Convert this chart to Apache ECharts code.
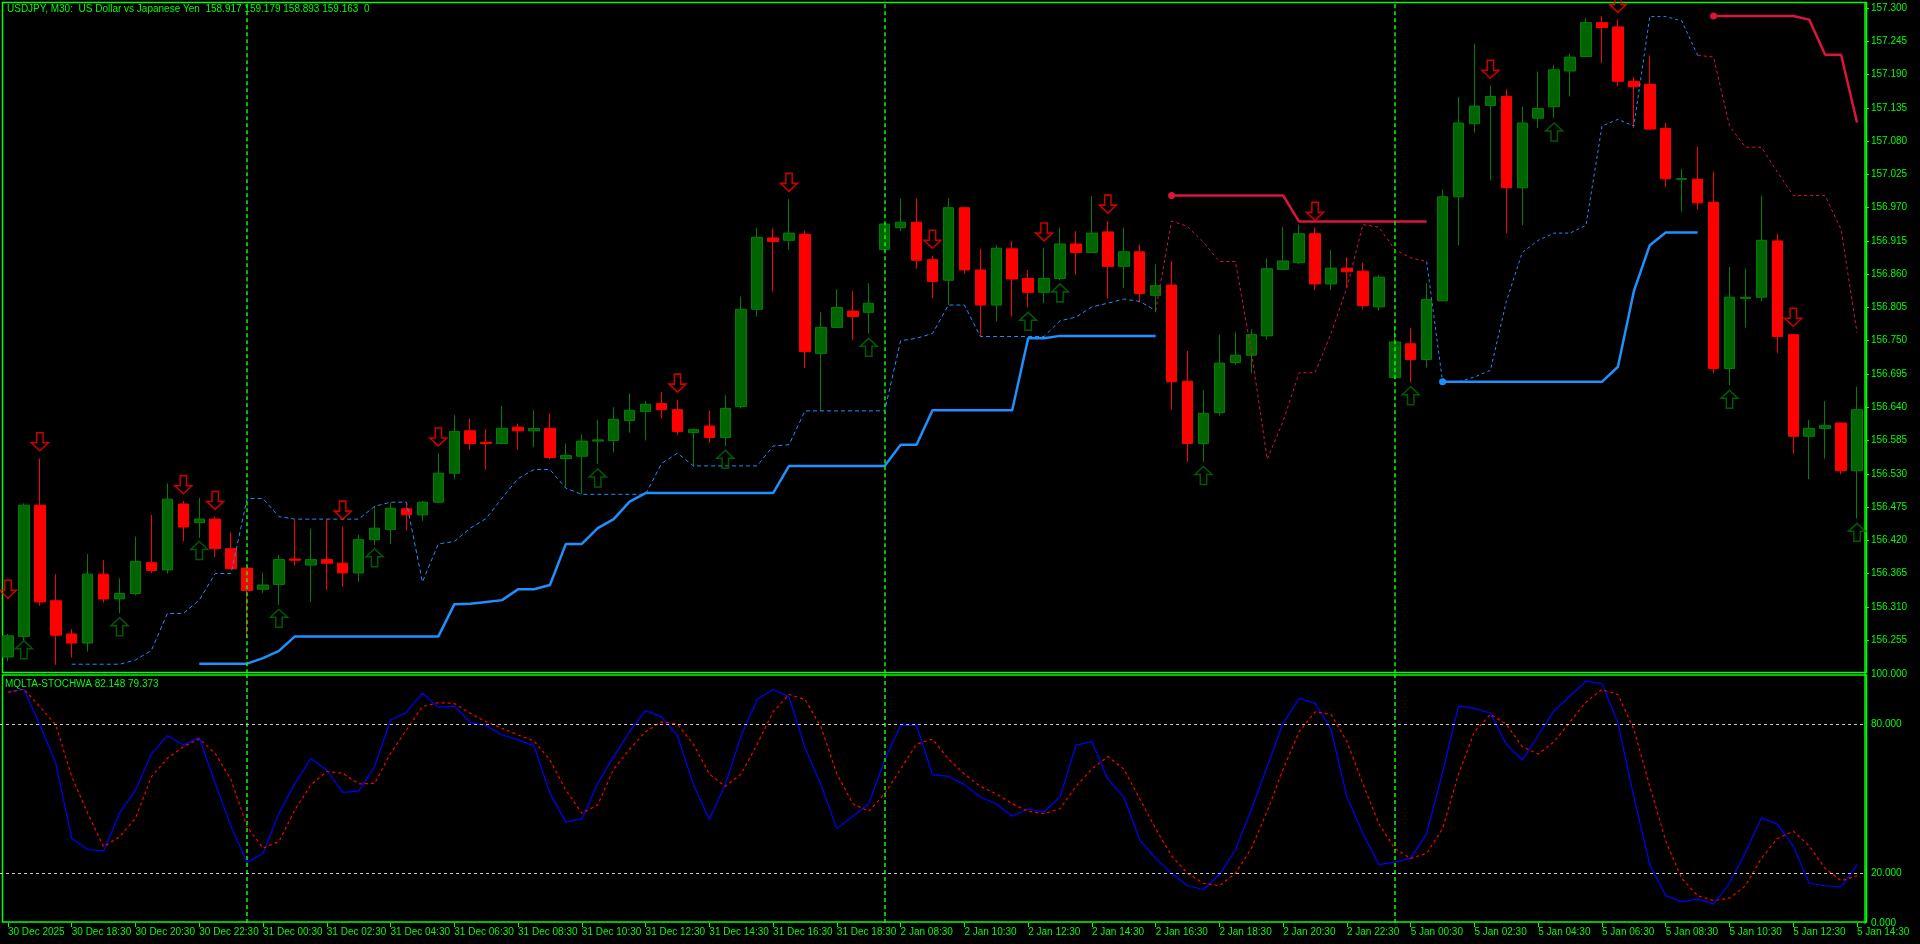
<!DOCTYPE html>
<html>
<head>
<meta charset="utf-8">
<script src="https://cdn.jsdelivr.net/npm/echarts@6/dist/echarts.min.js"></script>
<style>
  html, body { margin: 0; padding: 0; background: #000; }
  #chart { width: 1920px; height: 944px; }
</style>
</head>
<body>
<div id="chart"></div>
<script>
// candles c0..c116, M30 bars from 30 Dec 16:30 to 5 Jan 14:30
const opens = [156.227,156.261,156.478,156.320,156.265,156.250,156.364,156.323,156.332,156.383,156.371,156.480,156.449,156.455,156.406,156.374,156.339,156.347,156.389,156.379,156.388,156.382,156.366,156.421,156.438,156.472,156.462,156.483,156.531,156.601,156.582,156.580,156.607,156.601,156.605,156.555,156.559,156.584,156.585,156.618,156.633,156.646,156.636,156.598,156.609,156.590,156.641,156.802,156.920,156.916,156.926,156.729,156.772,156.799,156.797,156.901,156.937,156.946,156.884,156.850,156.970,156.867,156.809,156.902,156.853,156.830,156.853,156.910,156.896,156.930,156.873,156.897,156.825,156.842,156.683,156.580,156.631,156.714,156.726,156.758,156.868,156.879,156.927,156.844,156.870,156.865,156.806,156.689,156.745,156.719,156.816,156.988,157.109,157.139,157.154,157.003,157.118,157.137,157.196,157.220,157.276,157.269,157.179,157.174,157.101,157.017,157.017,156.979,156.704,156.820,156.822,156.915,156.760,156.592,156.605,156.614,156.535];
const closes = [156.262,156.478,156.318,156.263,156.250,156.364,156.323,156.332,156.385,156.370,156.488,156.442,156.455,156.406,156.373,156.337,156.346,156.388,156.387,156.388,156.382,156.366,156.421,156.440,156.473,156.462,156.483,156.531,156.600,156.580,156.580,156.605,156.601,156.605,156.557,156.560,156.584,156.586,156.620,156.635,156.645,156.636,156.600,156.603,156.590,156.638,156.802,156.921,156.914,156.928,156.732,156.772,156.805,156.790,156.812,156.943,156.946,156.883,156.848,156.970,156.867,156.809,156.903,156.852,156.830,156.853,156.910,156.896,156.928,156.873,156.897,156.828,156.841,156.682,156.580,156.630,156.713,156.726,156.760,156.869,156.882,156.927,156.844,156.870,156.864,156.808,156.855,156.748,156.719,156.818,156.988,157.110,157.138,157.154,157.003,157.110,157.134,157.198,157.219,157.276,157.268,157.179,157.170,157.100,157.018,157.018,156.978,156.704,156.822,156.822,156.916,156.757,156.592,156.605,156.610,156.535,156.636];
const lows = [156.220,156.255,156.312,156.214,156.226,156.236,156.317,156.299,156.329,156.366,156.365,156.418,156.424,156.392,156.372,156.258,156.333,156.313,156.378,156.318,156.338,156.343,156.351,156.412,156.414,156.436,156.452,156.482,156.521,156.570,156.537,156.579,156.570,156.574,156.554,156.507,156.496,156.546,156.565,156.598,156.585,156.621,156.594,156.542,156.581,156.576,156.638,156.790,156.831,156.901,156.705,156.634,156.772,156.751,156.762,156.899,156.931,156.869,156.820,156.809,156.861,156.758,156.782,156.790,156.805,156.812,156.850,156.859,156.896,156.820,156.837,156.813,156.797,156.636,156.550,156.550,156.626,156.710,156.696,156.752,156.867,156.877,156.834,156.834,156.838,156.802,156.800,156.687,156.681,156.706,156.815,156.908,157.094,157.015,156.928,156.941,157.102,157.118,157.154,157.220,157.209,157.171,157.102,157.098,157.004,156.964,156.967,156.696,156.676,156.772,156.815,156.730,156.563,156.521,156.555,156.529,156.456];
const highs = [156.265,156.481,156.555,156.364,156.273,156.397,156.387,156.357,156.426,156.462,156.514,156.485,156.490,156.459,156.433,156.374,156.366,156.396,156.453,156.439,156.455,156.442,156.429,156.477,156.482,156.481,156.485,156.564,156.627,156.621,156.604,156.642,156.613,156.635,156.630,156.580,156.595,156.619,156.640,156.663,156.650,156.665,156.652,156.605,156.634,156.660,156.823,156.936,156.936,156.984,156.932,156.797,156.835,156.832,156.845,156.945,156.985,156.985,156.890,156.986,156.971,156.902,156.908,156.915,156.867,156.903,156.937,156.931,156.989,156.948,156.937,156.909,156.876,156.882,156.733,156.668,156.760,156.764,156.769,156.886,156.938,156.942,156.937,156.900,156.888,156.879,156.858,156.774,156.771,156.845,157.000,157.153,157.241,157.172,157.166,157.137,157.195,157.206,157.225,157.284,157.287,157.281,157.186,157.222,157.110,157.034,157.071,157.029,156.872,156.869,156.990,156.927,156.761,156.619,156.650,156.614,156.674];

// x-axis labels, one every 4 bars
const timeLabels = ['30 Dec 2025','30 Dec 18:30','30 Dec 20:30','30 Dec 22:30','31 Dec 00:30','31 Dec 02:30','31 Dec 04:30','31 Dec 06:30','31 Dec 08:30','31 Dec 10:30','31 Dec 12:30','31 Dec 14:30','31 Dec 16:30','31 Dec 18:30','2 Jan 08:30','2 Jan 10:30','2 Jan 12:30','2 Jan 14:30','2 Jan 16:30','2 Jan 18:30','2 Jan 20:30','2 Jan 22:30','5 Jan 00:30','5 Jan 02:30','5 Jan 04:30','5 Jan 06:30','5 Jan 08:30','5 Jan 10:30','5 Jan 12:30','5 Jan 14:30'];
const daySeparators = [15, 55, 87];

// arrow signals: [bar, price at tip]
const downArrows = [[0,156.324],[2,156.568],[11,156.497],[13,156.471],[21,156.455],[27,156.576],[42,156.665],[49,156.997],[58,156.903],[65,156.915],[69,156.961],[82,156.949],[93,157.184],[101,157.293],[112,156.774]];
const upArrows = [[1,156.254],[7,156.292],[12,156.418],[17,156.306],[23,156.406],[37,156.538],[45,156.569],[54,156.754],[64,156.797],[66,156.844],[75,156.542],[88,156.674],[97,157.110],[108,156.668],[116,156.448]];

// trailing lines
const blueSolid1Start = 12;
const blueSolid1 = [156.216,156.216,156.216,156.216,156.225,156.237,156.261,156.261,156.261,156.261,156.261,156.261,156.261,156.261,156.261,156.261,156.314,156.315,156.318,156.321,156.339,156.339,156.346,156.414,156.414,156.440,156.455,156.484,156.498,156.498,156.498,156.498,156.498,156.498,156.498,156.498,156.498,156.543,156.543,156.543,156.543,156.543,156.543,156.543,156.578,156.578,156.635,156.635,156.635,156.635,156.635,156.635,156.754,156.754,156.758,156.758,156.758,156.758,156.758,156.758,156.758];
const blueSolid2Start = 90;
const blueSolid2 = [156.682,156.682,156.682,156.682,156.682,156.682,156.682,156.682,156.682,156.682,156.682,156.707,156.832,156.908,156.929,156.929,156.929];
const redSolid1Start = 73;
const redSolid1 = [156.990,156.990,156.990,156.990,156.990,156.990,156.990,156.990,156.947,156.947,156.947,156.947,156.947,156.947,156.947,156.947,156.947];
const redSolid2Start = 107;
const redSolid2 = [157.287,157.287,157.287,157.287,157.287,157.287,157.281,157.223,157.223,157.111];

const blueDash1Start = 4;
const blueDash1 = [156.215,156.215,156.215,156.215,156.222,156.238,156.299,156.299,156.321,156.365,156.365,156.489,156.489,156.459,156.455,156.455,156.455,156.455,156.455,156.476,156.483,156.483,156.351,156.414,156.418,156.440,156.456,156.490,156.522,156.537,156.537,156.506,156.496,156.496,156.496,156.496,156.496,156.547,156.564,156.543,156.543,156.543,156.543,156.543,156.576,156.578,156.634,156.634,156.634,156.634,156.634,156.634,156.750,156.754,156.762,156.809,156.809,156.757,156.757,156.757,156.757,156.757,156.783,156.789,156.806,156.812,156.819,156.815,156.800];
const redDot1Start = 72;
const redDot1 = [156.800,156.948,156.939,156.913,156.881,156.881,156.733,156.554,156.617,156.697,156.697,156.762,156.838,156.942,156.938,156.901,156.887,156.881];
const blueDash2Start = 89;
const blueDash2 = [156.881,156.682,156.682,156.690,156.701,156.815,156.896,156.916,156.928,156.928,156.941,157.105,157.116,157.105,157.286,157.286,157.279,157.222];
const redDot2Start = 106;
const redDot2 = [157.222,157.219,157.105,157.070,157.070,157.029,156.990,156.990,156.990,156.934,156.763];

// stochastic pane
const stochMain = [92.9,94.1,79.7,64.3,34.1,29.6,29.0,44.2,53.5,68.0,75.4,71.7,74.6,56.2,38.8,24.4,28.0,44.2,56.2,66.2,61.6,52.6,53.1,63.0,81.7,84.8,92.5,86.8,87.4,80.8,79.4,75.7,73.7,71.3,52.2,40.6,41.9,56.2,67,77,85.5,83,75.5,55.7,41.8,55.7,75.5,90,94,91,70.6,55.7,38,43,48,65.6,79.5,79.5,59.7,59,55.7,50.7,48,43,45.8,44.8,50.7,71.6,73,58,50.7,33.4,26,20,15,13.5,19.5,29.4,45.8,63,80.5,90.4,88.4,78,50.7,36,23.5,24.5,26,36,60.6,87.4,86.4,84.5,72,65.6,75.5,85.5,91.4,97.4,96.4,80.5,50.7,23.5,11,8.6,9.6,7.6,16,28.4,42.3,39.8,30.9,16,15,14.5,23.5];
const stochSignal = [92.9,94.1,87.1,79.7,58.9,44.2,30.7,34.7,42.2,58.9,66.3,71.0,74.1,68.3,57.6,38.8,30.1,32.8,45.5,55.6,61.0,60.3,56.0,56.2,68.3,77.7,87.1,88.7,88.4,84.4,81.0,78.4,75.7,73.3,65.6,53.5,44.2,47.5,62,70,77,81,80,72,60,55,60,72,85,92,90,79,60,48,45,52,62,72,74,66,60,55,52,48,45,44,46,55,62,67,62,50,38,27,20,16,15,20,30,45,62,77,85,84,73,56,40,30,26,28,38,60,77,84,80,71,68,73,81,89,94,92,78,55,33,18,11,9,10,15,26,34,37,31,22,17,19];
const stochLevels = [80, 20];

const N = opens.length;
const cats = opens.map((_, i) => String(i));
const lime = '#00ff00';
const font = 'Liberation Sans';

function pad(start, vals, dot) {
  const out = new Array(N).fill(null);
  vals.forEach((v, k) => { out[start + k] = v; });
  if (dot) out[start] = { value: vals[0], symbolSize: 7 };
  return out;
}

const candleData = opens.map((o, i) => [o, closes[i], lows[i], highs[i]]);

const downPath = 'path://M5,0 L11,0 L11,10 L16,10 L8,18 L0,10 L5,10 Z';
const upPath = 'path://M8,0 L16,8 L11,8 L11,18 L5,18 L5,8 L0,8 Z';

function trail(name, data, color, width, type) {
  return {
    name, type: 'line', xAxisIndex: 0, yAxisIndex: 0, data,
    symbol: 'circle', symbolSize: 0, showSymbol: true, showAllSymbol: true,
    itemStyle: { color }, lineStyle: { color, width, type },
    connectNulls: false, silent: true, z: 3
  };
}

const sepLines = daySeparators.map(i => ({ xAxis: String(i) }));

const chart = echarts.init(document.getElementById('chart'));
chart.setOption({
  backgroundColor: '#000',
  animation: false,
  grid: [
    { left: 0, right: 55, top: 2.7, bottom: 270.7 },
    { left: 0, right: 55, top: 674.6, bottom: 21 }
  ],
  xAxis: [
    { type: 'category', gridIndex: 0, data: cats, boundaryGap: true,
      axisLine: { show: false }, axisTick: { show: false }, axisLabel: { show: false }, splitLine: { show: false } },
    { type: 'category', gridIndex: 1, data: cats, boundaryGap: true,
      axisLine: { show: false },
      axisTick: { show: true, alignWithLabel: true, interval: i => i % 4 === 0, length: 4, lineStyle: { color: lime } },
      axisLabel: { show: true, interval: i => i % 4 === 0, color: lime, fontFamily: font, fontSize: 10, align: 'left', margin: 4,
        formatter: (v, i) => timeLabels[i / 4] || '' },
      splitLine: { show: false } }
  ],
  yAxis: [
    { type: 'value', gridIndex: 0, position: 'right', min: 156.2, max: 157.309, interval: 0.055,
      axisLine: { show: true, lineStyle: { color: lime, width: 1.5 } },
      axisTick: { show: true, length: 4, lineStyle: { color: lime } },
      axisLabel: { color: lime, fontFamily: font, fontSize: 10, margin: 6, showMinLabel: false, showMaxLabel: false,
        formatter: v => v.toFixed(3) },
      splitLine: { show: false } },
    { type: 'value', gridIndex: 1, position: 'right', min: 0, max: 100, interval: 20,
      axisLine: { show: true, lineStyle: { color: lime, width: 1.5 } },
      axisTick: { show: false },
      axisLabel: { color: lime, fontFamily: font, fontSize: 10, margin: 6,
        formatter: v => ([0, 20, 80, 100].includes(v) ? v.toFixed(3) : '') },
      splitLine: { show: false } }
  ],
  graphic: [
    { type: 'rect', shape: { x: 2.5, y: 2.5, width: 1864, height: 670 }, style: { fill: 'none', stroke: lime, lineWidth: 1.5 }, silent: true, z: 0 },
    { type: 'rect', shape: { x: 2.5, y: 675, width: 1864, height: 247 }, style: { fill: 'none', stroke: lime, lineWidth: 1.5 }, silent: true, z: 0 },
    { type: 'text', left: 7, top: 4, style: { text: 'USDJPY, M30:  US Dollar vs Japanese Yen  158.917 159.179 158.893 159.163  0', fill: lime, font: '10px "Liberation Sans"' }, z: 10 },
    { type: 'text', left: 5, top: 679, style: { text: 'MQLTA-STOCHWA 82.148 79.373', fill: lime, font: '10px "Liberation Sans"' }, z: 10 }
  ],
  series: [
    { name: 'USDJPY', type: 'candlestick', xAxisIndex: 0, yAxisIndex: 0, data: candleData, barWidth: 11,
      itemStyle: { color: '#006400', color0: '#ff0000', borderColor: '#008000', borderColor0: '#ff0000', borderWidth: 1 },
      markLine: { silent: true, symbol: 'none', label: { show: false },
        lineStyle: { color: lime, type: [4, 3], width: 1.5 }, data: sepLines },
      z: 2 },
    trail('blueSolid1', pad(blueSolid1Start, blueSolid1, false), '#1e90ff', 2.5, 'solid'),
    trail('blueSolid2', pad(blueSolid2Start, blueSolid2, true), '#1e90ff', 2.5, 'solid'),
    trail('redSolid1', pad(redSolid1Start, redSolid1, true), '#dc143c', 2.5, 'solid'),
    trail('redSolid2', pad(redSolid2Start, redSolid2, true), '#dc143c', 2.5, 'solid'),
    trail('blueDash1', pad(blueDash1Start, blueDash1, false), '#1e90ff', 1, [4, 3]),
    trail('blueDash2', pad(blueDash2Start, blueDash2, false), '#1e90ff', 1, [3, 3]),
    trail('redDot1', pad(redDot1Start, redDot1, false), '#dc143c', 1, [3, 3]),
    trail('redDot2', pad(redDot2Start, redDot2, false), '#dc143c', 1, [3, 3]),
    { name: 'down', type: 'scatter', xAxisIndex: 0, yAxisIndex: 0, clip: false,
      data: downArrows.map(a => [String(a[0]), a[1]]), symbol: downPath, symbolSize: [17, 18], symbolOffset: [0, '-50%'],
      itemStyle: { color: 'rgba(0,0,0,0)', borderColor: '#ff0000', borderWidth: 1.5 }, z: 5, silent: true },
    { name: 'up', type: 'scatter', xAxisIndex: 0, yAxisIndex: 0, clip: false,
      data: upArrows.map(a => [String(a[0]), a[1]]), symbol: upPath, symbolSize: [17, 18], symbolOffset: [0, '50%'],
      itemStyle: { color: 'rgba(0,0,0,0)', borderColor: '#007000', borderWidth: 1.5 }, z: 5, silent: true },
    { name: 'stochMain', type: 'line', xAxisIndex: 1, yAxisIndex: 1, data: stochMain, showSymbol: false,
      lineStyle: { color: '#0000ff', width: 1.2 }, silent: true, z: 3,
      markLine: { silent: true, symbol: 'none', label: { show: false },
        data: [
          ...sepLines.map(d => Object.assign({ lineStyle: { color: lime, type: [4, 3], width: 1.5 } }, d)),
          ...stochLevels.map(v => ({ yAxis: v, lineStyle: { color: '#c8c8c8', type: [3, 3], width: 1 } }))
        ] } },
    { name: 'stochSignal', type: 'line', xAxisIndex: 1, yAxisIndex: 1, data: stochSignal, showSymbol: false,
      lineStyle: { color: '#ff0000', width: 1.2, type: [3, 3] }, silent: true, z: 3 }
  ]
});
</script>
</body>
</html>
